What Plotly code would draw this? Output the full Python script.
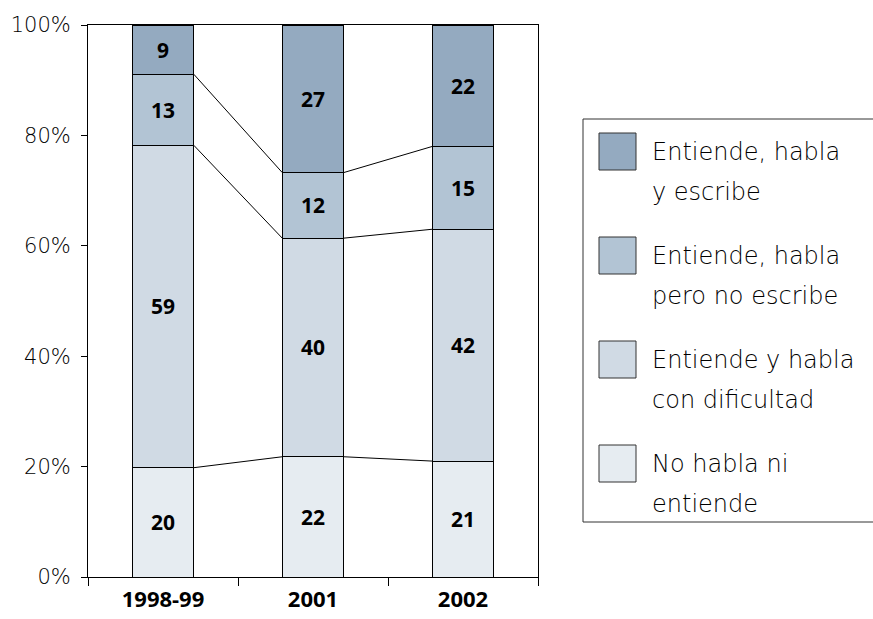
import numpy as np
import plotly.graph_objects as go

# data (bottom to top of each stack)
years = ["1998-99", "2001", "2002"]
series_names = ["No habla ni entiende", "Entiende y habla con dificultad",
                "Entiende, habla pero no escribe", "Entiende, habla y escribe"]
legend_lines = [["No habla ni", "entiende"],
                ["Entiende y habla", "con dificultad"],
                ["Entiende, habla", "pero no escribe"],
                ["Entiende, habla", "y escribe"]]
no_habla = [20, 22, 21]
con_dificultad = [59, 40, 42]
no_escribe = [13, 12, 15]
escribe = [9, 27, 22]
values = [no_habla, con_dificultad, no_escribe, escribe]
colors = ["#E6ECF1", "#D0DAE4", "#B2C4D4", "#94AAC0"]

W, H = 873, 619
L, R, T, B = 88, 335, 25, 42
BOLD = "Open Sans"
LIGHT = "DejaVu Sans"
bar_w = 0.41

fig = go.Figure()
for name, vals, col in zip(series_names, values, colors):
    fig.add_trace(go.Bar(
        x=years, y=vals, name=name, width=bar_w,
        marker=dict(color=col, line=dict(color="black", width=1)),
        text=[str(v) for v in vals], textposition="inside",
        insidetextanchor="middle",
        textfont=dict(family=BOLD, size=21, color="black", weight="bold"),
        showlegend=False, hoverinfo="skip"))

# series connector lines between stacks
arr = np.array(values, dtype=float)
cum = np.cumsum(arr, axis=0) / arr.sum(axis=0) * 100
for k in range(len(values) - 1):
    xs, ys = [], []
    for i in range(len(years) - 1):
        xs += [i + bar_w / 2, i + 1 - bar_w / 2, None]
        ys += [cum[k, i], cum[k, i + 1], None]
    fig.add_trace(go.Scatter(x=xs, y=ys, xaxis="x2", mode="lines",
                             line=dict(color="black", width=1),
                             showlegend=False, hoverinfo="skip"))

# legend drawn by hand (large swatches, wide line spacing)
def px(x):
    return (x - L) / (W - L - R)

def py(y):
    return 1 - (y - T) / (H - T - B)

shapes = [dict(type="rect", xref="paper", yref="paper",
               x0=px(583), x1=px(880), y0=py(522), y1=py(119),
               line=dict(color="#333", width=1), fillcolor="white", layer="below")]
annotations = []
for j in range(len(series_names)):
    idx = len(series_names) - 1 - j
    top = 133 + j * 104
    shapes.append(dict(type="rect", xref="paper", yref="paper",
                       x0=px(599), x1=px(636), y0=py(top + 37), y1=py(top),
                       fillcolor=colors[idx], line=dict(color="#333", width=1)))
    for n, line in enumerate(legend_lines[idx]):
        annotations.append(dict(xref="paper", yref="paper", x=px(650),
                                y=py(top + 19 + n * 40), text=line,
                                showarrow=False, xanchor="left", yanchor="middle",
                                font=dict(family=LIGHT, size=24, color="black",
                                          weight=300)))

fig.update_layout(
    barmode="stack", barnorm="percent",
    width=W, height=H,
    margin=dict(l=L, r=R, t=T, b=B),
    plot_bgcolor="white", paper_bgcolor="white",
    font=dict(family=LIGHT, color="black"),
    shapes=shapes, annotations=annotations,
    xaxis=dict(type="category", tickson="boundaries", ticks="outside", ticklen=8,
               tickcolor="black", showline=True, linecolor="black", mirror=True,
               showgrid=False, ticklabelstandoff=3, automargin=False,
               tickfont=dict(family=BOLD, size=22, color="black", weight="bold")),
    xaxis2=dict(overlaying="x", range=[-0.5, 2.5], visible=False),
    yaxis=dict(range=[0, 100], dtick=20, ticksuffix="%", ticks="outside", ticklen=6,
               tickcolor="black", showline=True, linecolor="black", mirror=True,
               showgrid=False, zeroline=False, ticklabelstandoff=6, automargin=False,
               tickfont=dict(family=LIGHT, size=21, color="black", weight=300)),
)

fig.write_html("out.html", config={"displayModeBar": False},
               post_script="document.body.style.margin='0';")
